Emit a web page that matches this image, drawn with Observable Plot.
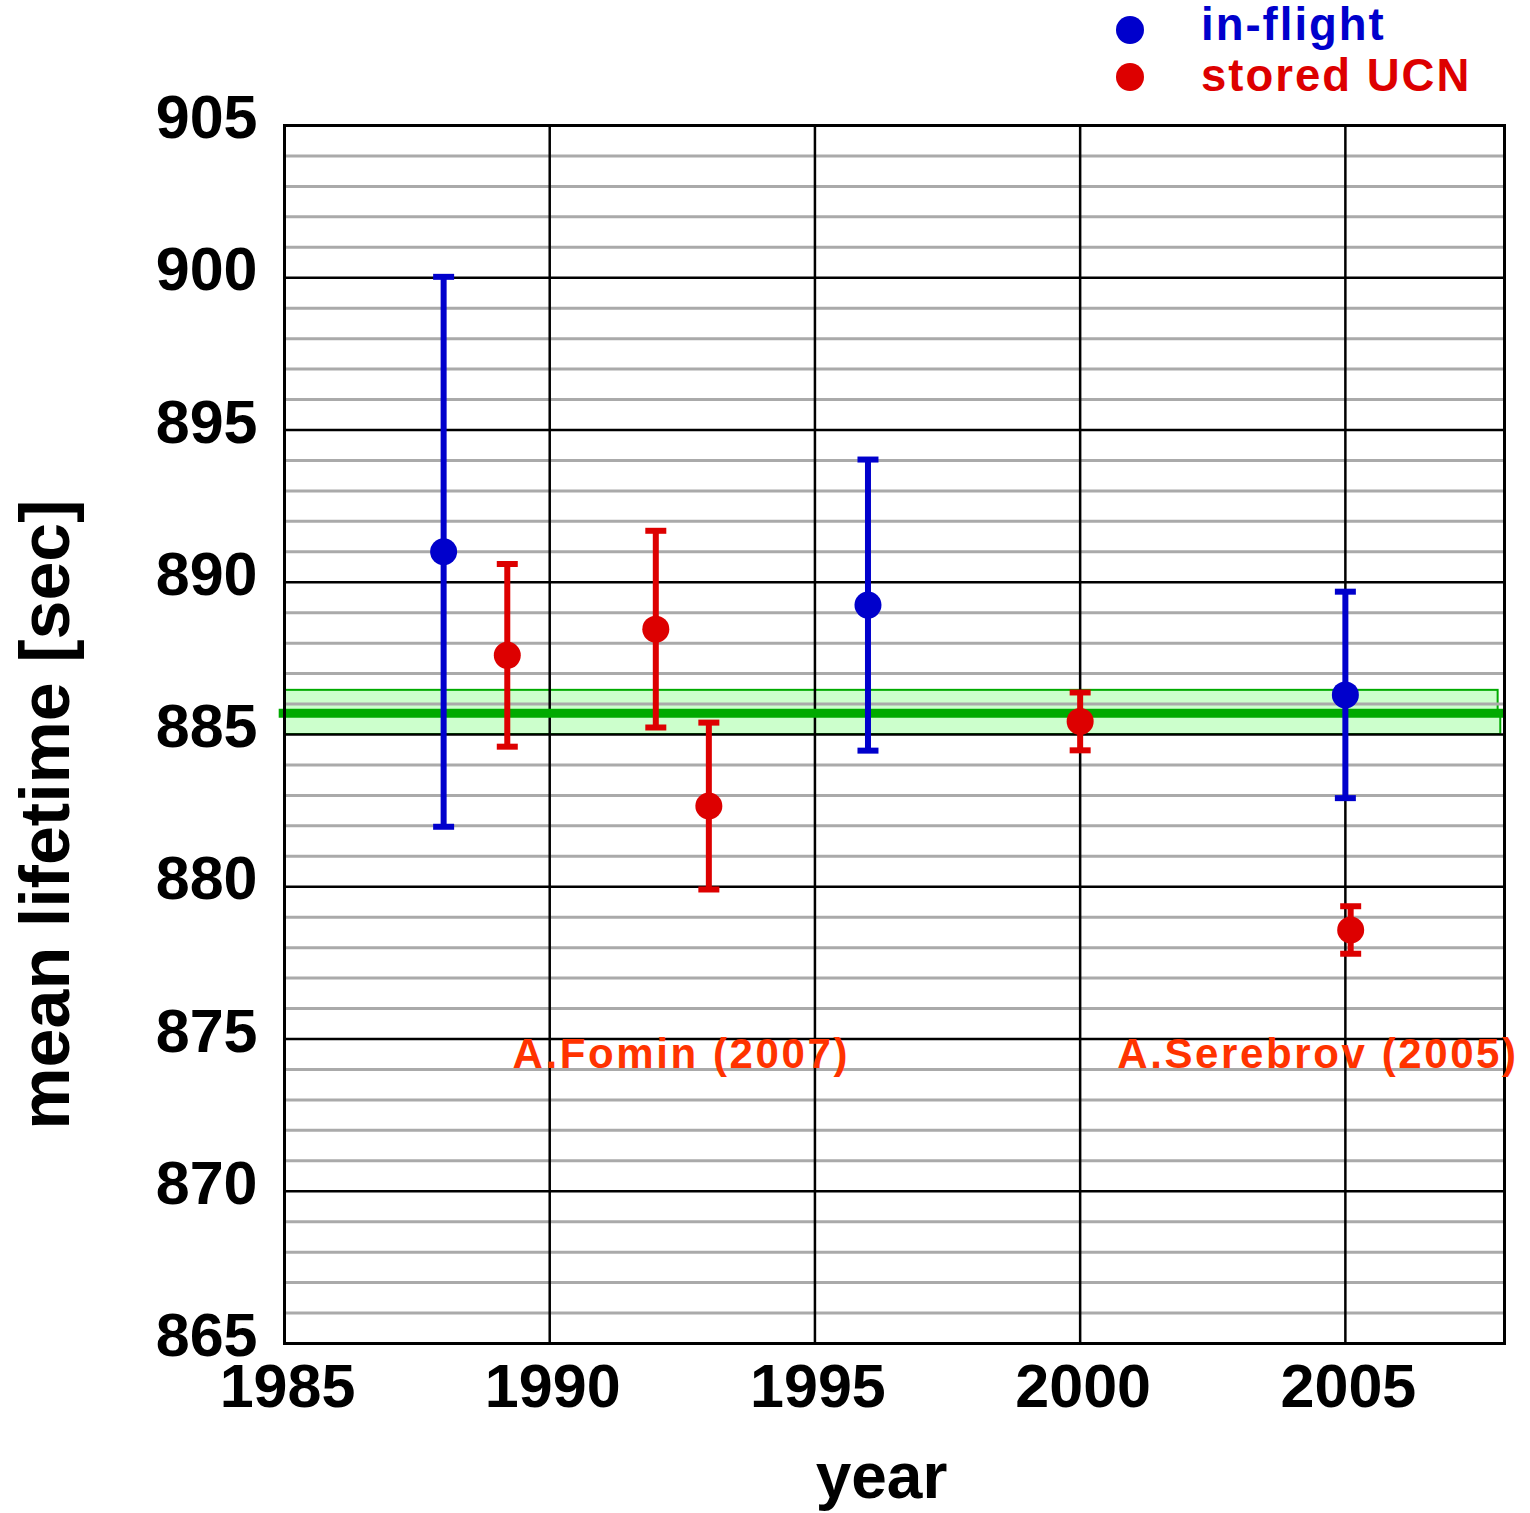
<!DOCTYPE html>
<html>
<head>
<meta charset="utf-8">
<script src="https://cdn.jsdelivr.net/npm/d3@7"></script>
<script src="https://cdn.jsdelivr.net/npm/@observablehq/plot@0.6"></script>
<style>
  body { margin: 0; background: #fff; }
  #wrap { position: relative; width: 1530px; height: 1513px; }
  .legend { position: absolute; left: 0; top: 0; width: 1530px; height: 0; font-family: "Liberation Sans", Arial, sans-serif; font-weight: bold; }
  .legend .dot { position: absolute; width: 28px; height: 28px; border-radius: 50%; }
  .legend .lab { position: absolute; font-size: 45.5px; line-height: 1.117; letter-spacing: 2px; white-space: nowrap; }
</style>
</head>
<body>
<div id="wrap"></div>
<script>
// ---- data ----
const seriesNames = ["in-flight", "stored UCN"];
const seriesColors = ["#0000cc", "#dd0000"];

const inFlightYears  = [1988, 1996, 2005];
const inFlightValues = [891.0, 889.25, 886.3];
const inFlightErrors = [9.03, 4.78, 3.39];

const storedYears  = [1989.2, 1992, 1993, 2000, 2005.1];
const storedValues = [887.6, 888.46, 882.65, 885.43, 878.58];
const storedErrors = [3.0, 3.23, 2.74, 0.95, 0.78];

const worldAverage = 885.7;
const bandUpper = 886.45;
const bandLower = 885.0;

const xTicks = [1985, 1990, 1995, 2000, 2005];
const yTicks = [865, 870, 875, 880, 885, 890, 895, 900, 905];
const yMinor = d3.range(865, 906).filter(v => v % 5 !== 0);

const annotationTexts = ["A.Fomin (2007)", "A.Serebrov (2005)"];
const annotationYears = [1989.3, 2000.7];
const annotationValue = 874.5;

// ---- build rows ----
const rows = [
  ...inFlightYears.map((x, i) => ({series: seriesNames[0], year: x, value: inFlightValues[i], err: inFlightErrors[i]})),
  ...storedYears.map((x, i) => ({series: seriesNames[1], year: x, value: storedValues[i], err: storedErrors[i]}))
];
const caps = rows.flatMap(d => [
  {series: d.series, year: d.year, value: d.value + d.err},
  {series: d.series, year: d.year, value: d.value - d.err}
]);
const bandRows = [
  {x1: 1985, x2: 2007.88, y1: worldAverage, y2: bandUpper},
  {x1: 1985, x2: 2007.93, y1: bandLower, y2: worldAverage}
];
const annotations = annotationTexts.map((t, i) => ({text: t, year: annotationYears[i], value: annotationValue}));

const capSymbol = {
  draw(ctx, size) {
    const r = Math.sqrt(size / Math.PI);
    ctx.moveTo(-r, 0);
    ctx.lineTo(r, 0);
  }
};

const plot = Plot.plot({
  width: 1530,
  height: 1513,
  marginTop: 125,
  marginBottom: 170,
  marginLeft: 284,
  marginRight: 26,
  x: {domain: [1985, 2008]},
  y: {domain: [865, 905]},
  color: {domain: seriesNames, range: seriesColors},
  style: {fontFamily: "'Liberation Sans', Arial, sans-serif", fontWeight: "bold", background: "white", color: "black", overflow: "visible"},
  marks: [
    Plot.rect(bandRows, {x1: "x1", x2: "x2", y1: "y1", y2: "y2", fill: "#ccffcc", stroke: "#00aa00", strokeWidth: 2}),
    Plot.ruleY(yMinor, {stroke: "#aaaaaa", strokeWidth: 3}),
    Plot.ruleY(yTicks, {stroke: "black", strokeWidth: 2.5}),
    Plot.ruleX(xTicks, {stroke: "black", strokeWidth: 2.5}),
    Plot.ruleY([worldAverage], {x1: 1984.9, x2: 2008, stroke: "#00aa00", strokeWidth: 9}),
    Plot.frame({stroke: "black", strokeWidth: 3}),
    Plot.ruleX(rows, {x: "year", y1: d => d.value - d.err, y2: d => d.value + d.err, stroke: "series", strokeWidth: 6}),
    Plot.dot(caps, {x: "year", y: "value", symbol: capSymbol, r: 10.5, stroke: "series", strokeWidth: 6, fill: "none"}),
    Plot.dot(rows, {x: "year", y: "value", r: 13.5, fill: "series"}),
    Plot.axisY(yTicks, {tickSize: 0, tickPadding: 27, fontSize: 61, dy: -7, label: null}),
    Plot.axisX(xTicks, {tickSize: 0, tickPadding: 20, fontSize: 61, dx: 3, label: null, tickFormat: d3.format("d")}),
    Plot.text(annotations, {x: "year", y: "value", text: "text", textAnchor: "start", fontSize: 42, fill: "#ff3300"}),
    Plot.text(["mean lifetime [sec]"], {frameAnchor: "left", textAnchor: "middle", rotate: -90, fontSize: 70, dx: -238, dy: 80}),
    Plot.text(["year"], {frameAnchor: "bottom", textAnchor: "middle", fontSize: 64, dx: -13, dy: 154, lineAnchor: "bottom"})
  ]
});

// widen the annotation lettering like the reference
d3.select(plot).selectAll("text")
  .filter(function() { return annotationTexts.includes(this.textContent); })
  .style("letter-spacing", "2.6px");

const wrap = document.getElementById("wrap");
wrap.appendChild(plot);

// legend (HTML, overlaid above the plot frame)
const legend = document.createElement("div");
legend.className = "legend";
const legendDotY = [30, 77];
const legendBaselines = [41, 92];
seriesNames.forEach((name, i) => {
  const dot = document.createElement("div");
  dot.className = "dot";
  dot.style.background = seriesColors[i];
  dot.style.left = (1130 - 14) + "px";
  dot.style.top = (legendDotY[i] - 14) + "px";
  legend.appendChild(dot);
  const lab = document.createElement("div");
  lab.className = "lab";
  lab.style.color = seriesColors[i];
  lab.style.left = "1201px";
  lab.style.top = (legendBaselines[i] - 41) + "px";
  lab.textContent = name;
  legend.appendChild(lab);
});
wrap.appendChild(legend);
</script>
</body>
</html>
